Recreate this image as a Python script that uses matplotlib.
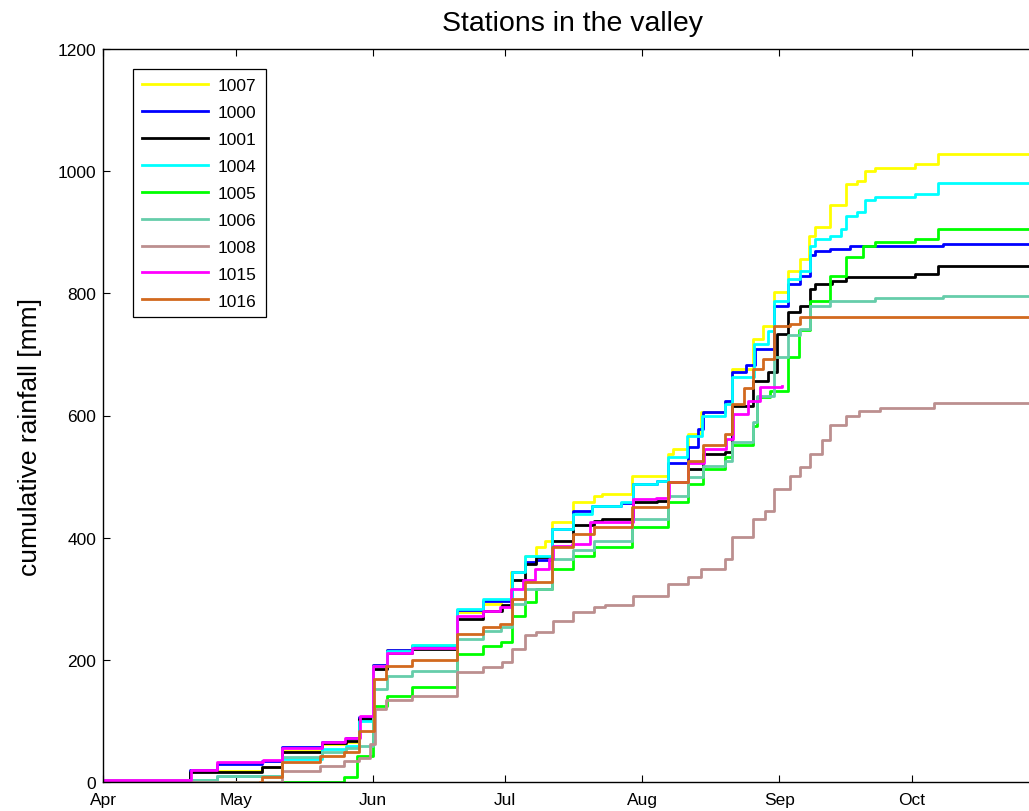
import numpy as np
import pandas as pd
import matplotlib
matplotlib.use("Agg")
import matplotlib.pyplot as plt

plt.rcParams['font.family'] = ['Liberation Sans', 'DejaVu Sans']

# ---- data: (days since 1 April, cumulative rainfall mm), step series ----
start = pd.Timestamp('2011-04-01')
month_ticks = ['2011-04-01', '2011-05-01', '2011-06-01', '2011-07-01',
               '2011-08-01', '2011-09-01', '2011-10-01']
month_labels = ['Apr', 'May', 'Jun', 'Jul', 'Aug', 'Sep', 'Oct']
end_day = 214

stations = ['1007', '1000', '1001', '1004', '1005', '1006', '1008', '1015', '1016']
colors = ['#FFFF00', '#0000FF', '#000000', '#00FFFF', '#00FF00',
          '#66CDAA', '#BC8F8F', '#FF00FF', '#D2691E']

d1007 = [0, 19.7, 36, 40.6, 49.5, 55, 58, 61, 64.2, 69.8, 80, 86, 90, 92.4, 95.5, 98, 100,
         101.5, 106.4, 111, 113, 119.6, 127.9, 129, 132.4, 135.4, 140.7, 142.2, 147, 149.4,
         151.7, 155, 157.7, 159.8, 161, 164.5, 168, 170.5, 172.4, 174.7, 183.7, 189, 214]
v1007 = [3, 18, 24, 50, 62, 66, 104, 192, 216, 224, 278, 291, 297, 343, 370, 385, 395,
         425, 458, 469, 471, 501, 537, 545, 570, 605, 622, 676, 725, 747,
         802, 837, 856, 894, 908, 944, 979, 984, 1001, 1006, 1012, 1028, 1028]

d1000 = [0, 19.7, 25.8, 36, 40.6, 49.5, 55, 58, 61, 64.2, 69.8, 80, 86, 92.5, 95.5, 98,
         101.5, 106.4, 110.6, 117.3, 120, 125.3, 127.9, 132.4, 134.7, 135.8, 140.7, 142.2,
         145.5, 147.5, 151.7, 155, 157.7, 160, 161, 164.5, 169, 190, 214]
v1000 = [3, 20, 30, 34, 57, 65, 72, 107, 192, 216, 222, 281, 297, 343, 360, 363,
         414, 444, 452, 456, 488, 493, 523, 548, 578, 605, 624, 671,
         682, 709, 780, 815, 829, 862, 870, 873, 877, 881, 881]

d1001 = [0, 19.7, 36, 40.6, 49.5, 55, 58, 61, 64.2, 69.8, 80, 86, 90.2, 92.5, 95.5, 98,
         101.5, 106.4, 111, 113, 120, 125.3, 127.9, 132.4, 135.8, 140.7, 142.2, 147, 150.5,
         152.4, 155, 157.7, 160, 161, 164.9, 168, 183.7, 189, 214]
v1001 = [3, 17, 25, 49, 64, 67, 103, 185, 212, 218, 267, 280, 289, 330, 357, 368,
         395, 420, 428, 431, 458, 460, 491, 512, 537, 540, 616, 657, 671,
         733, 769, 780, 807, 815, 821, 826, 832, 845, 845]

d1004 = [0, 25.8, 40.6, 49.5, 55, 58, 61, 64.2, 69.8, 80, 86, 92.5, 95.5, 101.5, 106.4,
         110.6, 117.3, 120, 125.3, 127.9, 132.2, 135.6, 140.7, 142.2, 147.3, 150.5, 151.7,
         155, 157.7, 160, 161, 164.5, 167, 168, 170.5, 172.4, 174.7, 183.7, 189, 214]
v1004 = [3, 10, 38, 54, 59, 100, 190, 215, 224, 283, 300, 343, 370, 414, 439,
         452, 458, 488, 493, 532, 567, 600, 619, 663, 717, 739, 788,
         823, 837, 878, 889, 894, 905, 927, 933, 952, 957, 963, 980, 980]

d1005 = [0, 54.6, 57.5, 61, 64.2, 69.8, 80, 86, 90, 92.5, 95.5, 98, 101.5, 106.4, 111,
         119.6, 127.9, 132.4, 135.8, 140.7, 142.2, 147, 148, 151, 155, 157.5, 160, 164.5,
         168, 172, 174.7, 183.7, 189, 214]
v1005 = [0, 8, 43, 125, 141, 155, 210, 223, 229, 272, 294, 316, 349, 370, 384,
         417, 458, 488, 512, 532, 551, 583, 630, 640, 695, 740, 788, 829,
         859, 878, 884, 889, 906, 906]

d1006 = [0, 25.8, 40.6, 49.5, 55, 58, 61, 64.2, 69.8, 80, 86, 90, 92.5, 95.5, 101.5,
         106.4, 111, 119.6, 127.9, 132.4, 135.8, 140.7, 142.2, 147, 148, 151.7, 155,
         157.7, 160, 164.5, 174.7, 190, 214]
v1006 = [3, 10, 41, 49, 56, 59, 152, 174, 182, 234, 248, 254, 291, 316, 365,
         379, 395, 431, 469, 499, 518, 526, 556, 589, 632, 695, 731,
         742, 780, 788, 793, 795, 795]

d1008 = [0, 40.6, 49, 54.6, 58, 60.5, 61.5, 64, 69.8, 80, 86, 90.2, 92.5, 95.5, 98, 101.9,
         106.4, 111, 113.6, 120, 123.8, 127.9, 132.4, 135.4, 140.7, 142.2, 147.1, 149.8,
         151.7, 155.4, 157.7, 160, 162.7, 164.5, 168, 171, 175.8, 188, 214]
v1008 = [0, 18, 27, 35, 40, 62, 120, 135, 141, 180, 188, 196, 218, 240, 245, 264,
         278, 286, 289, 304, 305, 324, 335, 349, 365, 401, 431, 444,
         480, 501, 516, 537, 560, 585, 600, 608, 612, 620, 620]

d1015 = [0, 19.8, 25.8, 36.2, 40.6, 49.5, 54.8, 58.1, 61.1, 64.2, 69.8, 80, 86, 89.8, 92.3,
         95, 97.7, 101, 101.8, 106, 110.2, 120, 125, 128, 132.4, 136, 141, 142.5, 146,
         148.6, 153.6]
v1015 = [3, 20, 32, 36, 56, 65, 72, 108, 190, 212, 220, 272, 280, 286, 316,
         330, 349, 365, 387, 390, 426, 463, 465, 491, 523, 545, 562, 602, 624,
         646, 648]

d1016 = [35.5, 36, 40.6, 49, 54.6, 58, 61.2, 64, 69.8, 80, 86, 89.8, 92.5, 95.5, 101.5,
         106.4, 111, 119.6, 127.9, 132.4, 135.8, 140.7, 142.2, 145, 147, 149.4, 151.7,
         155.4, 157.7, 214]
v1016 = [0, 8, 32, 43, 49, 84, 169, 190, 200, 242, 253, 258, 300, 327, 384,
         406, 417, 450, 491, 526, 551, 570, 619, 645, 676, 693, 747,
         750, 761, 761]

series_days = [d1007, d1000, d1001, d1004, d1005, d1006, d1008, d1015, d1016]
series_vals = [v1007, v1000, v1001, v1004, v1005, v1006, v1008, v1015, v1016]

# ---- figure ----
W, H = 1029, 812
fig = plt.figure(figsize=(W / 100, H / 100), dpi=100)
ax_left = 103 / W
ax_bottom = (H - 783) / H
ax_top = 1 - 50 / H
ax_right_px = 103 + end_day * 4.42
ax = fig.add_axes([ax_left, ax_bottom, (ax_right_px - 103) / W, ax_top - ax_bottom])

for name, col, dd, vv in zip(stations, colors, series_days, series_vals):
    t = start + pd.to_timedelta(np.asarray(dd, dtype=float), unit='D')
    ax.plot(t, vv, drawstyle='steps-post', color=col, lw=2.0, label=name)

ax.set_xlim(start, start + pd.Timedelta(days=end_day))
ax.set_ylim(0, 1200)
ax.set_yticks(np.arange(0, 1201, 200))
ax.set_xticks(pd.to_datetime(month_ticks))
ax.set_xticklabels(month_labels)
ax.tick_params(direction='in', length=5, width=0.8, labelsize=12.5,
               top=True, right=True)
ax.tick_params(axis='x', pad=7)
ax.tick_params(axis='y', pad=5)
for s in ax.spines.values():
    s.set_linewidth(1.0)

ax.set_ylabel('cumulative rainfall [mm]', fontsize=19)
ax.yaxis.set_label_coords(42 / W, 1 - 437 / H, transform=fig.transFigure)
fig.text(572 / W, 1 - 24 / H, 'Stations in the valley', fontsize=20.5,
         ha='center', va='center')

leg = ax.legend(loc='upper left', bbox_to_anchor=(133 / W, 1 - 70 / H),
                bbox_transform=fig.transFigure, borderaxespad=0,
                fancybox=False, edgecolor='black', framealpha=1,
                fontsize=12.5, handlelength=3.8, handletextpad=0.6,
                labelspacing=0.68, borderpad=0.5)
leg.get_frame().set_linewidth(0.9)

fig.savefig('out.png', dpi=100)
